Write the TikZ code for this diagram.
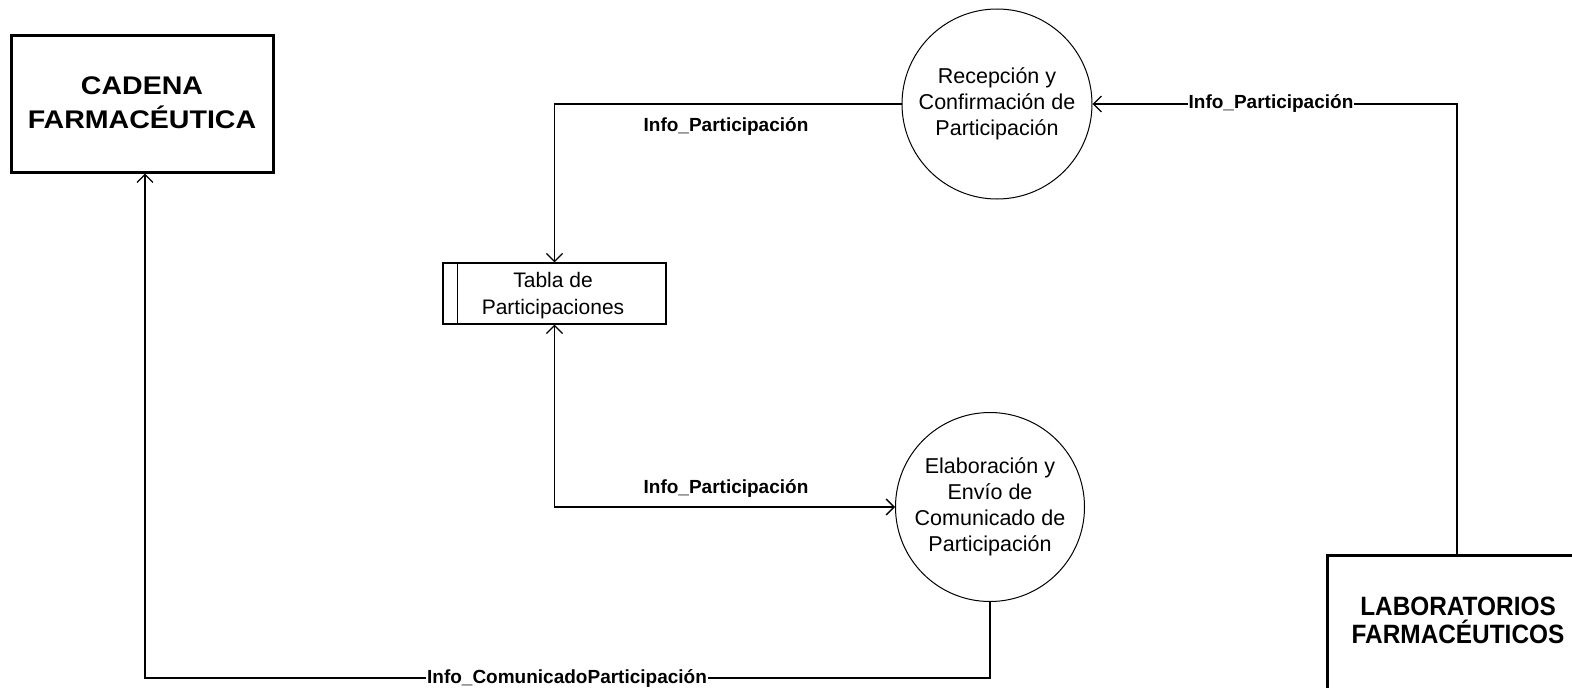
\documentclass[tikz,border=0pt]{standalone}
\usepackage{fontspec}
\setmainfont{Liberation Sans}
\usetikzlibrary{arrows.meta}
\begin{document}
\begin{tikzpicture}[x=1pt,y=-1pt,
  entity/.style={draw,line width=3pt,rectangle,inner sep=0pt},
  proc/.style={draw,line width=1pt,circle,inner sep=0pt},
  ptext/.style={align=center,inner sep=0pt,font=\fontsize{21.5}{25.8}\selectfont},
  store/.style={draw,line width=1.2pt,rectangle,inner sep=0pt,minimum width=223pt,minimum height=61pt},
  flowlabel/.style={inner sep=1pt,font=\fontsize{19}{22}\selectfont\bfseries},
  onlinelabel/.style={flowlabel,fill=white},
  arr/.style={line width=1.3pt,-{Straight Barb[length=8pt,width=16pt,line width=1.3pt]}},
  arrboth/.style={line width=1.3pt,{Straight Barb[length=8pt,width=16pt,line width=1.3pt]}-{Straight Barb[length=8pt,width=16pt,line width=1.3pt]}},
  conn/.style={line width=1.3pt}]
\useasboundingbox (0,0) rectangle (1572,688);

% external entities
\node[entity,minimum width=262pt,minimum height=137pt] (cad) at (142,103.5) {};
\node[align=center,inner sep=0pt,font=\fontsize{25.5}{34}\selectfont\bfseries] (cadtext) at (142,103)
  {\scalebox{1.12}[1]{CADENA}\\\scalebox{1.12}[1]{FARMACÉUTICA}};
\node[entity,minimum width=260pt,minimum height=165pt] (lab) at (1457,637.5) {};
\node[align=center,inner sep=0pt,font=\fontsize{26.5}{28}\selectfont\bfseries] (labtext) at (1458,620)
  {\scalebox{0.92}[1]{LABORATORIOS}\\\scalebox{0.92}[1]{FARMACÉUTICOS}};

% processes
\node[proc,minimum size=190pt] (R) at (997,104) {};
\node[ptext] (Rtext) at (R.center) {Recepción y\\Confirmación de\\Participación};
\node[proc,minimum size=189pt] (E) at (990,507) {};
\node[ptext] (Etext) at (E.center) {Elaboración y\\Envío de\\Comunicado de\\Participación};

% data store
\node[store] (T) at (554.5,293.5) {};
\draw[line width=1.2pt] ([xshift=15pt]T.north west) -- ([xshift=15pt]T.south west);
\node[align=center,inner sep=0pt,font=\fontsize{21}{27}\selectfont] (Ttext) at (553,296) {Tabla de\\Participaciones};

% flows
\draw[arr] (R.west) -| (T.north);
\node[flowlabel] (l1) at (726,127) {Info\_Participación};

\draw[arrboth] (T.south) |- (E.west);
\node[flowlabel] (l2) at (726,488) {Info\_Participación};

\coordinate (labtop) at (lab.north);
\draw[arr] (labtop) |- (R.east);
\node[onlinelabel] (l3) at (1271,104) {Info\_Participación};

\coordinate (bcorner) at (990,678);
\draw[arr] (E.south) -- (bcorner) -| ([xshift=3pt]cad.south);
\node[onlinelabel] (l4) at (567,678) {Info\_ComunicadoParticipación};
\end{tikzpicture}
\end{document}
